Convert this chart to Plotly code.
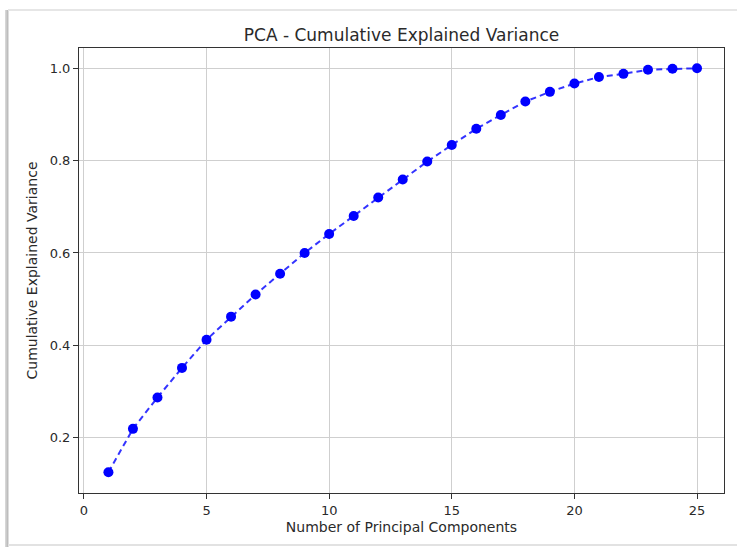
import plotly.graph_objects as go

components = list(range(1, 26))
cumulative_variance = [0.125, 0.219, 0.287, 0.351, 0.412, 0.462, 0.510, 0.555, 0.600, 0.641,
                       0.680, 0.720, 0.759, 0.798, 0.834, 0.869, 0.899, 0.928, 0.949, 0.967,
                       0.981, 0.988, 0.997, 0.999, 1.000]
x_ticks = [0, 5, 10, 15, 20, 25]
y_ticks = [0.2, 0.4, 0.6, 0.8, 1.0]
y_tick_labels = ["0.2", "0.4", "0.6", "0.8", "1.0"]

W, H = 737, 547
L, R, T, B = 79, 724, 48, 493

fig = go.Figure()
fig.add_trace(go.Scatter(
    x=components, y=cumulative_variance, mode="lines+markers",
    line=dict(color="rgba(0,0,255,0.8)", width=2, dash="6px,4px"),
    marker=dict(color="#0000ff", size=10),
    showlegend=False,
))

def px(xp):
    return (xp - L) / (R - L)

def py(yp):
    return 1 - (yp - T) / (B - T)

shapes = [
    dict(type="rect", xref="paper", yref="paper", x0=px(5), x1=px(8), y0=py(547), y1=py(10),
         fillcolor="#d6d6d6", line=dict(width=0), layer="below"),
    dict(type="rect", xref="paper", yref="paper", x0=px(6.5), x1=px(8.5), y0=py(547), y1=py(10),
         fillcolor="#bdbdbd", line=dict(width=0), layer="below"),
    dict(type="rect", xref="paper", yref="paper", x0=px(8), x1=px(737), y0=py(11), y1=py(9),
         fillcolor="#e6e6e6", line=dict(width=0), layer="below"),
    dict(type="rect", xref="paper", yref="paper", x0=px(8), x1=px(737), y0=py(546), y1=py(544),
         fillcolor="#e2e2e2", line=dict(width=0), layer="below"),
]

font_family = "DejaVu Sans"
fig.update_layout(
    width=W, height=H,
    margin=dict(l=L, r=W - R, t=T, b=H - B),
    paper_bgcolor="white", plot_bgcolor="white",
    font=dict(family=font_family, color="#2a2a2a", size=13),
    title=dict(text="PCA - Cumulative Explained Variance", x=(L + R) / 2 / W, xanchor="center",
               y=1 - 35 / H, yanchor="middle", yref="container",
               font=dict(size=17, family=font_family, color="#2a2a2a")),
    shapes=shapes,
    xaxis=dict(range=[-0.2, 26.1], tickvals=x_ticks, ticktext=[str(v) for v in x_ticks],
               showgrid=True, gridcolor="#cfcfcf", gridwidth=1, zeroline=False,
               showline=True, linecolor="#333333", linewidth=1, mirror=True,
               ticks="outside", ticklen=5, tickcolor="#333333",
               title=dict(text="Number of Principal Components", standoff=5, font=dict(size=14))),
    yaxis=dict(range=[0.080, 1.044], tickvals=y_ticks, ticktext=y_tick_labels,
               showgrid=True, gridcolor="#cfcfcf", gridwidth=1, zeroline=False,
               showline=True, linecolor="#333333", linewidth=1, mirror=True,
               ticks="outside", ticklen=5, tickcolor="#333333",
               title=dict(text="Cumulative Explained Variance", standoff=8, font=dict(size=14))),
)

fig.write_html("out.html")
